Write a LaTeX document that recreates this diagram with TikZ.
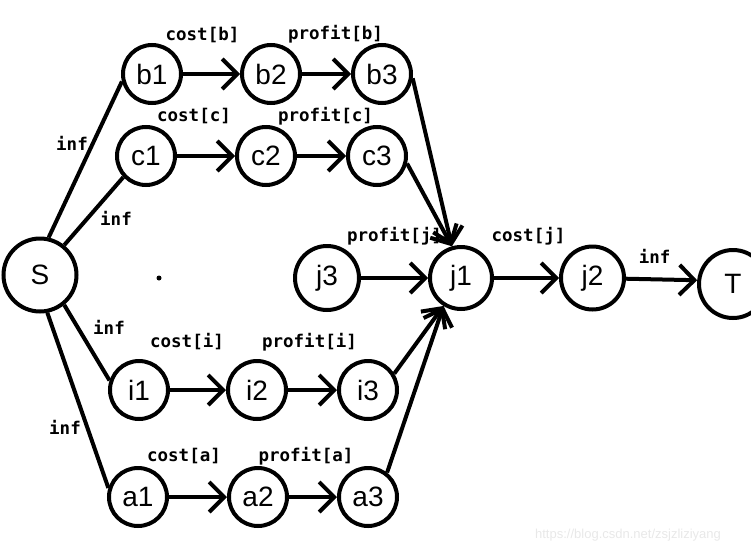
\documentclass[tikz,border=0pt]{standalone}
\usepackage{fontspec}
\setmainfont{Liberation Sans}
\newfontfamily\lblfont{DejaVu Sans Mono}
\usepackage{tikz}
\usetikzlibrary{arrows.meta}
\usetikzlibrary{positioning}
\tikzstyle{state} = [draw, circle,
	line width=4pt,
	inner sep=0pt,
	minimum size=58pt,
	font=\fontsize{28}{28}\selectfont]
\tikzstyle{big} = [state, minimum size=62pt]
\tikzstyle{arrow} = [-{Straight Barb[length=15pt,width=30pt]}, line width=4pt]
\tikzstyle{line} = [line width=4pt]
\tikzstyle{lbl} = [inner sep=0pt, font=\lblfont\bfseries\fontsize{17.5}{17.5}\selectfont]

\begin{document}
\begin{tikzpicture}[x=1pt, y=-1pt]
	\useasboundingbox (0,0) rectangle (751,554);
	
	\node (S) [state, minimum size=73pt] at (40,275) {S};
	
	\node (b1) [state] at (152,74) {b1};
	\node (b2) [state, right=57pt] at (b1.east) {b2};
	\node (b3) [state, right=49pt] at (b2.east) {b3};
	
	\node (c1) [state] at (146,156) {c1};
	\node (c2) [state, right=58pt] at (c1.east) {c2};
	\node (c3) [state, right=49pt] at (c2.east) {c3};
	
	\node (i1) [state] at (139,390) {i1};
	\node (i2) [state, right=56pt] at (i1.east) {i2};
	\node (i3) [state, right=49pt] at (i2.east) {i3};
	
	\node (a1) [state] at (138,497) {a1};
	\node (a2) [state, right=58pt] at (a1.east) {a2};
	\node (a3) [state, right=48pt] at (a2.east) {a3};
	
	\node (j3) [state, minimum size=64pt] at (327,278) {j3};
	\node (j1) [big, right=67pt] at (j3.east) {j1};
	\node (j2) [big, minimum size=63pt, right=65pt] at (j1.east) {j2};
	\node (T) [state, minimum size=68pt] at (733,284) {T};
	
	\node (dot) [circle, fill, inner sep=0pt, minimum size=5pt] at (159,278) {};
	
	% source edges
	\draw [line] (S.77) -- (b1.194);
	\draw [line] (S.51) -- (c1.223);
	\draw [line] (S.-51) -- (i1.162);
	\draw [line] (S.-79) -- (a1.163);
	\node (infb) [lbl] at (72,143) {inf};
	\node (infc) [lbl] at (116,218) {inf};
	\node (infi) [lbl] at (109,327) {inf};
	\node (infa) [lbl] at (65,427) {inf};
	
	% chains
	\draw [arrow] (b1) -- (b2) node [lbl, midway, above=29pt, xshift=-9pt] (cb) {cost[b]};
	\draw [arrow] (b2) -- (b3) node [lbl, midway, above=29pt, xshift=9pt] (pb) {profit[b]};
	\draw [arrow] (c1) -- (c2) node [lbl, midway, above=30pt, xshift=-12pt] (cc) {cost[c]};
	\draw [arrow] (c2) -- (c3) node [lbl, midway, above=29pt, xshift=4pt] (pc) {profit[c]};
	\draw [arrow] (i1) -- (i2) node [lbl, midway, above=38pt, xshift=-11pt] (ci) {cost[i]};
	\draw [arrow] (i2) -- (i3) node [lbl, midway, above=37pt, xshift=-3pt] (pi) {profit[i]};
	\draw [arrow] (a1) -- (a2) node [lbl, midway, above=31pt, xshift=-14pt] (ca) {cost[a]};
	\draw [arrow] (a2) -- (a3) node [lbl, midway, above=30pt, xshift=-7pt] (pa) {profit[a]};
	
	% into j1
	\draw [arrow] (b3.-8) -- (j1.106);
	\draw [arrow] (c3.-14) -- (j1.106);
	\draw [arrow] (i3.32) -- (j1.238);
	\draw [arrow] (a3.52) -- (j1.238);
	\draw [arrow] (j3) -- (j1) node [lbl, midway, above=31pt] (pj) {profit[j]};
	\draw [arrow] (j1) -- (j2) node [lbl, midway, above=31pt, xshift=2pt] (cj) {cost[j]};
	\draw [arrow] (j2) -- (T.174) node [lbl, midway, above=14pt, xshift=-7pt] (infT) {inf};
	
	\node (wm) [text=gray!18, font=\fontsize{13}{13}\selectfont] at (628,535) {https://blog.csdn.net/zsjzliziyang};
\end{tikzpicture}
\end{document}
